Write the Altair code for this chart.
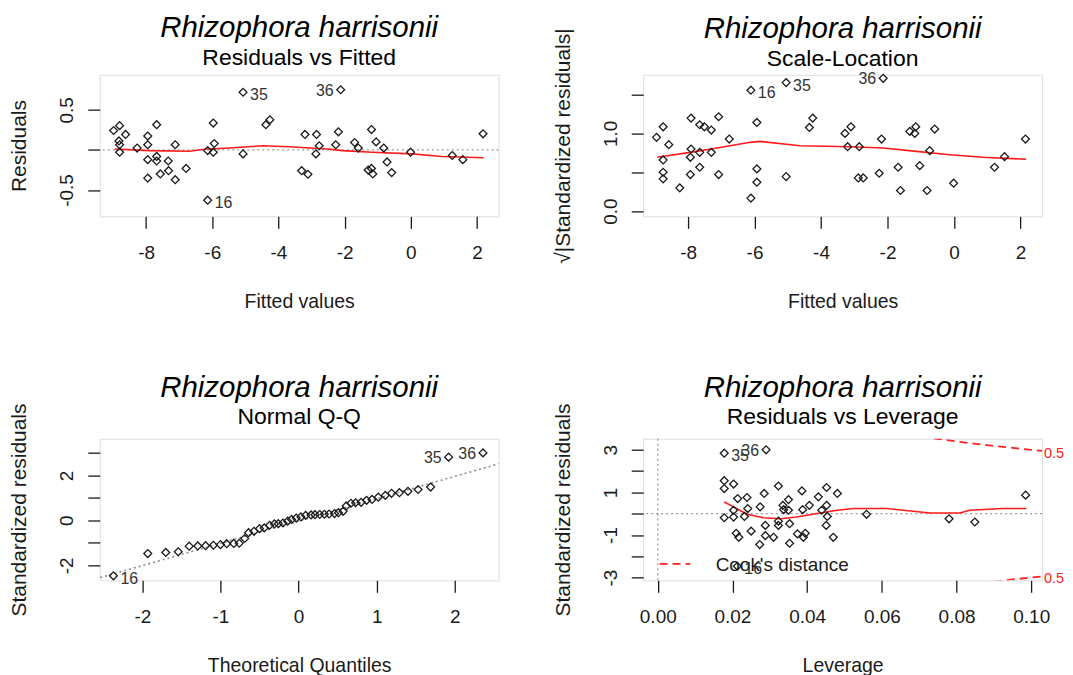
import altair as alt
import pandas as pd

FONT = "Liberation Sans, Arial, Helvetica, sans-serif"
SPECIES = "Rhizophora harrisonii"

# ---------------- Panel 1: Residuals vs Fitted ----------------
rvf_x = [-8.98, -8.80, -8.62, -8.82, -8.80, -8.80, -8.27, -7.95, -7.95, -7.95,
         -7.95, -7.68, -7.68, -7.68, -7.57, -7.33, -7.32, -7.12, -7.12, -6.79,
         -6.14, -6.14, -5.97, -5.94, -5.97, -5.07, -5.07, -4.38, -4.26, -3.20,
         -3.30, -3.11, -2.85, -2.77, -2.87, -2.27, -2.19, -2.12, -1.70, -1.59,
         -1.29, -1.19, -1.15, -1.19, -1.05, -0.82, -0.72, -0.58, -0.01, 1.25,
         1.57, 2.18]
rvf_y = [0.243, 0.304, 0.194, 0.113, 0.065, -0.028, 0.024, 0.174, 0.065, -0.121,
         -0.352, 0.316, -0.081, -0.138, -0.300, -0.138, -0.259, 0.065, -0.372, -0.231,
         -0.628, -0.008, 0.336, 0.081, -0.028, 0.721, -0.049, 0.316, 0.377, 0.194,
         -0.259, -0.304, 0.194, 0.053, -0.049, 0.065, 0.227, 0.753, 0.093, 0.024,
         -0.251, 0.255, -0.300, -0.231, 0.101, 0.024, -0.150, -0.283, -0.028, -0.069,
         -0.121, 0.202]
rvf_smooth_x = [-8.95, -7.9, -6.69, -6.24, -5.49, -4.48, -3.68, -2.52, -2.07, -1.17, 0.04, 0.94, 2.2]
rvf_smooth_y = [0.012, -0.008, -0.016, 0.008, 0.024, 0.053, 0.04, 0.012, -0.008, -0.028, -0.049, -0.081, -0.097]
rvf_lab_x = [-5.07, -2.12, -6.14]
rvf_lab_y = [0.721, 0.753, -0.628]
rvf_lab_t = ["35", "36", "16"]
rvf_lab_side = ["r", "l", "r"]

# ---------------- Panel 2: Scale-Location ----------------
sl_x = [-8.95, -8.75, -8.58, -8.75, -8.75, -8.75, -8.25, -7.91, -7.91, -7.93,
        -7.93, -7.65, -7.51, -7.65, -7.65, -7.30, -7.30, -7.08, -7.08, -6.76,
        -6.11, -5.93, -5.93, -5.93, -6.11, -5.05, -5.05, -4.35, -4.25, -3.28,
        -3.10, -3.20, -2.85, -2.88, -2.73, -2.25, -2.18, -2.13, -1.68, -1.61,
        -1.33, -1.15, -1.18, -1.03, -0.81, -0.73, -0.58, -0.01, 1.22, 1.52,
        2.15]
sl_y = [0.949, 1.085, 0.855, 0.658, 0.500, 0.415, 0.299, 1.197, 0.799, 0.692,
        0.470, 1.111, 1.085, 0.756, 0.564, 1.043, 0.756, 1.214, 0.470, 0.927,
        1.556, 1.141, 0.543, 0.372, 0.167, 1.654, 0.444, 1.077, 1.197, 1.000,
        1.085, 0.829, 0.829, 0.427, 0.427, 0.487, 0.927, 1.709, 0.564, 0.265,
        1.026, 1.085, 1.000, 0.585, 0.265, 0.778, 1.056, 0.359, 0.564, 0.701,
        0.927]
sl_smooth_x = [-8.93, -7.93, -7.13, -6.13, -5.83, -4.63, -3.13, -2.13, -1.13, -0.13, 0.87, 2.17]
sl_smooth_y = [0.692, 0.756, 0.812, 0.885, 0.897, 0.842, 0.829, 0.812, 0.769, 0.726, 0.692, 0.667]
sl_lab_x = [-6.11, -5.05, -2.13]
sl_lab_y = [1.556, 1.654, 1.709]
sl_lab_t = ["16", "35", "36"]
sl_lab_side = ["r", "r", "l"]

# ---------------- Panel 3: Normal Q-Q ----------------
qq_x = [-2.37, -1.93, -1.70, -1.54, -1.40, -1.29, -1.19, -1.09, -1.00, -0.92,
        -0.83, -0.76, -0.69, -0.64, -0.57, -0.50, -0.44, -0.37, -0.31, -0.26,
        -0.20, -0.14, -0.09, -0.03, 0.03, 0.09, 0.16, 0.21, 0.27, 0.33,
        0.39, 0.46, 0.51, 0.57, 0.61, 0.67, 0.73, 0.80, 0.87, 0.94,
        1.02, 1.11, 1.19, 1.29, 1.40, 1.53, 1.69, 1.92, 2.36]
qq_y = [-2.47, -1.48, -1.43, -1.40, -1.15, -1.14, -1.13, -1.11, -1.08, -1.04,
        -1.03, -1.02, -0.81, -0.55, -0.49, -0.37, -0.34, -0.22, -0.16, -0.15,
        -0.12, -0.04, 0.04, 0.10, 0.15, 0.22, 0.24, 0.25, 0.26, 0.27,
        0.28, 0.30, 0.34, 0.40, 0.64, 0.76, 0.78, 0.80, 0.89, 0.93,
        1.03, 1.11, 1.20, 1.23, 1.29, 1.37, 1.48, 2.81, 3.00]
qq_line_x = [-2.6, 2.6]
qq_line_y = [-2.61, 2.55]
qq_lab_x = [-2.37, 1.92, 2.36]
qq_lab_y = [-2.47, 2.81, 3.00]
qq_lab_t = ["16", "35", "36"]
qq_lab_side = ["r", "l", "l"]

# ---------------- Panel 4: Residuals vs Leverage ----------------
lev_x = [0.0178, 0.0290, 0.0178, 0.0178, 0.0203, 0.0178, 0.0203, 0.0203, 0.0214, 0.0239,
         0.0241, 0.0232, 0.0210, 0.0217, 0.0250, 0.0273, 0.0274, 0.0285, 0.0288, 0.0288,
         0.0310, 0.0323, 0.0323, 0.0323, 0.0335, 0.0350, 0.0350, 0.0353, 0.0353, 0.0337,
         0.0374, 0.0386, 0.0388, 0.0395, 0.0390, 0.0406, 0.0430, 0.0439, 0.0452, 0.0452,
         0.0454, 0.0451, 0.0470, 0.0481, 0.0559, 0.0780, 0.0849, 0.0985, 0.0213]
lev_y = [2.84, 3.00, 1.55, 1.18, 1.39, -0.19, -0.16, 0.16, 0.71, 0.76,
         0.24, -0.13, -0.92, -1.11, -0.82, -1.45, 0.32, 0.95, -0.55, -1.03,
         -1.11, 1.30, -0.35, -0.55, 0.39, 0.66, 0.16, -0.47, -1.39, 0.19,
         -0.95, 1.07, 0.19, -0.92, -1.11, 0.39, 0.79, 0.16, 1.23, 0.39,
         -0.13, -0.55, -1.11, 0.95, -0.03, -0.24, -0.39, 0.87, -2.47]
lev_smooth_x = [0.0178, 0.0203, 0.0239, 0.0283, 0.0328, 0.0372, 0.0435, 0.048, 0.0524,
                0.0613, 0.0729, 0.0809, 0.0835, 0.0924, 0.0987]
lev_smooth_y = [0.55, 0.32, -0.03, -0.19, -0.24, -0.16, 0.03, 0.16, 0.24,
                0.24, 0.03, 0.03, 0.16, 0.24, 0.24]
cook_top_x = [0.0705, 0.075, 0.08, 0.085, 0.09, 0.095, 0.10, 0.1035]
cook_top_y = [3.64, 3.51, 3.39, 3.28, 3.18, 3.09, 3.00, 2.94]
cook_bot_x = [0.09, 0.095, 0.10, 0.1035]
cook_bot_y = [-3.18, -3.09, -3.00, -2.94]
cook_lab_x = [0.1029, 0.1029]
cook_lab_y = [2.8, -3.05]
cook_lab_t = ["0.5", "0.5"]
legend_line_x = [0.0005, 0.0087]
legend_line_y = [-2.36, -2.36]
legend_text_x = [0.0155]
legend_text_y = [-2.40]
legend_text = ["Cook's distance"]
lev_lab_x = [0.0178, 0.0290, 0.0213]
lev_lab_y = [2.84, 3.00, -2.47]
lev_lab_t = ["35", "36", "16"]
lev_lab_side = ["r", "l", "r"]

# ---------------- axes ----------------
fit_ticks = [-8, -6, -4, -2, 0, 2]
fit_labels = ["-8", "-6", "-4", "-2", "0", "2"]
res_ticks = [-0.5, 0, 0.5]
res_labels = ["-0.5", "", "0.5"]
sl_ticks = [0, 0.5, 1.0, 1.5]
sl_labels = ["0.0", "", "1.0", ""]
qx_ticks = [-2, -1, 0, 1, 2]
qx_labels = ["-2", "-1", "0", "1", "2"]
qy_ticks = [-2, -1, 0, 1, 2, 3]
qy_labels = ["-2", "", "0", "", "2", ""]
lx_ticks = [0.0, 0.02, 0.04, 0.06, 0.08, 0.10]
lx_labels = ["0.00", "0.02", "0.04", "0.06", "0.08", "0.10"]
ly_ticks = [-3, -2, -1, 0, 1, 2, 3]
ly_labels = ["-3", "", "-1", "", "1", "", "3"]

W, H = 400, 142
INK = "#1a1a1a"


def lbl_expr(vals, labels):
    expr = "''"
    for v, l in reversed(list(zip(vals, labels))):
        expr = f"abs(datum.value - ({v})) < 1e-9 ? '{l}' : {expr}"
    return expr


def x_axis(vals, labels, title):
    return alt.Axis(values=vals, labelExpr=lbl_expr(vals, labels), title=title,
                    tickSize=12, tickWidth=1.3, tickColor=INK, domain=False, grid=False,
                    labelFont=FONT, labelFontSize=19, labelColor=INK, labelPadding=15,
                    labelOverlap=False, labelFlush=False,
                    titleFont=FONT, titleFontSize=19.5, titleFontWeight="normal",
                    titleColor=INK, titlePadding=30, minExtent=46, maxExtent=46)


def y_axis(vals, labels, title):
    return alt.Axis(values=vals, labelExpr=lbl_expr(vals, labels), title=title,
                    tickSize=12, tickWidth=1.3, tickColor=INK, domain=False, grid=False,
                    labelFont=FONT, labelFontSize=19, labelColor=INK, labelPadding=11,
                    labelAngle=-90, labelAlign="center", labelBaseline="bottom",
                    labelOverlap=False, labelFlush=False,
                    titleFont=FONT, titleFontSize=21, titleFontWeight="normal",
                    titleColor=INK, titlePadding=28, minExtent=42, maxExtent=42)


def panel(xdom, ydom, xax, yax, subtitle, title_offset, pts, smooth, labels, extra=()):
    xs = alt.Scale(domain=xdom, nice=False, zero=False)
    ys = alt.Scale(domain=ydom, nice=False, zero=False)

    def enc():
        return dict(x=alt.X("x:Q", scale=xs, axis=xax), y=alt.Y("y:Q", scale=ys, axis=yax))

    layers = []
    for kind, df in extra:
        if kind == "hrule":
            layers.append(alt.Chart(df).mark_rule(color="#9a9a9a", strokeDash=[2, 3], strokeWidth=1.3)
                          .encode(y=alt.Y("y:Q", scale=ys, axis=yax)))
        elif kind == "vrule":
            layers.append(alt.Chart(df).mark_rule(color="#9a9a9a", strokeDash=[2, 3], strokeWidth=1.3)
                          .encode(x=alt.X("x:Q", scale=xs, axis=xax)))
        elif kind == "dotline":
            layers.append(alt.Chart(df).mark_line(color="#8a8a8a", strokeDash=[2, 3], strokeWidth=1.6, clip=True)
                          .encode(**enc()))
        elif kind == "cook":
            layers.append(alt.Chart(df).mark_line(color="#ff2020", strokeDash=[8, 5], strokeWidth=1.8, clip=True)
                          .encode(**enc()))
        elif kind == "cooklab":
            layers.append(alt.Chart(df).mark_text(color="#ff2020", align="left", baseline="middle", dx=2,
                                                  font=FONT, fontSize=14.5)
                          .encode(text="t:N", **enc()))
        elif kind == "legline":
            layers.append(alt.Chart(df).mark_line(color="#ff2020", strokeDash=[8, 5], strokeWidth=1.8)
                          .encode(**enc()))
        elif kind == "legtext":
            layers.append(alt.Chart(df).mark_text(color=INK, align="left", baseline="middle",
                                                  font=FONT, fontSize=19)
                          .encode(text="t:N", **enc()))
    if smooth is not None:
        layers.append(alt.Chart(smooth).mark_line(color="#ff1a1a", strokeWidth=1.6).encode(**enc()))
    layers.append(alt.Chart(pts).mark_point(shape="diamond", filled=False, size=62, color=INK,
                                            strokeWidth=1.3, opacity=1).encode(**enc()))
    layers.append(alt.Chart(labels).transform_filter("datum.side == 'r'")
                  .mark_text(align="left", baseline="middle", dx=7, dy=3, font=FONT, fontSize=16, color="#333")
                  .encode(text="t:N", **enc()))
    layers.append(alt.Chart(labels).transform_filter("datum.side == 'l'")
                  .mark_text(align="right", baseline="middle", dx=-7, dy=1, font=FONT, fontSize=16, color="#333")
                  .encode(text="t:N", **enc()))
    return alt.layer(*layers).properties(
        width=W, height=H,
        title=alt.TitleParams(text=SPECIES, subtitle=[subtitle], font=FONT, fontSize=29.5,
                              fontStyle="italic", fontWeight="normal", color="black",
                              subtitleFont=FONT, subtitleFontSize=23, subtitleColor="black",
                              subtitleFontWeight="normal", subtitlePadding=3,
                              anchor="middle", frame="group", offset=title_offset))


def xy(xl, yl):
    return pd.DataFrame({"x": xl, "y": yl})


def labs(xl, yl, tl, sl):
    return pd.DataFrame({"x": xl, "y": yl, "t": tl, "side": sl})


p1 = panel([-9.4, 2.65], [-0.83, 0.94],
           x_axis(fit_ticks, fit_labels, "Fitted values"),
           y_axis(res_ticks, res_labels, "Residuals"),
           "Residuals vs Fitted", 4, xy(rvf_x, rvf_y), xy(rvf_smooth_x, rvf_smooth_y),
           labs(rvf_lab_x, rvf_lab_y, rvf_lab_t, rvf_lab_side),
           extra=[("hrule", pd.DataFrame({"y": [0]}))])

p2 = panel([-9.35, 2.65], [-0.068, 1.755],
           x_axis(fit_ticks, fit_labels, "Fitted values"),
           y_axis(sl_ticks, sl_labels, "√|Standardized residuals|"),
           "Scale-Location", -44, xy(sl_x, sl_y), xy(sl_smooth_x, sl_smooth_y),
           labs(sl_lab_x, sl_lab_y, sl_lab_t, sl_lab_side))

p3 = panel([-2.545, 2.56], [-2.67, 3.63],
           x_axis(qx_ticks, qx_labels, "Theoretical Quantiles"),
           y_axis(qy_ticks, qy_labels, "Standardized residuals"),
           "Normal Q-Q", -27, xy(qq_x, qq_y), None,
           labs(qq_lab_x, qq_lab_y, qq_lab_t, qq_lab_side),
           extra=[("dotline", xy(qq_line_x, qq_line_y))])

p4 = panel([-0.0039, 0.1029], [-3.13, 3.52],
           x_axis(lx_ticks, lx_labels, "Leverage"),
           y_axis(ly_ticks, ly_labels, "Standardized residuals"),
           "Residuals vs Leverage", -27, xy(lev_x, lev_y), xy(lev_smooth_x, lev_smooth_y),
           labs(lev_lab_x, lev_lab_y, lev_lab_t, lev_lab_side),
           extra=[("hrule", pd.DataFrame({"y": [0]})),
                  ("vrule", pd.DataFrame({"x": [0]})),
                  ("cook", xy(cook_top_x, cook_top_y)),
                  ("cook", xy(cook_bot_x, cook_bot_y)),
                  ("cooklab", pd.DataFrame({"x": cook_lab_x, "y": cook_lab_y, "t": cook_lab_t})),
                  ("legline", xy(legend_line_x, legend_line_y)),
                  ("legtext", pd.DataFrame({"x": legend_text_x, "y": legend_text_y, "t": legend_text}))])

chart = alt.concat(p1, p2, p3, p4, columns=2,
                   spacing=alt.RowColnumber(row=223, column=145),
                   bounds="flush").properties(
    padding={"left": 0, "top": 4, "right": 0, "bottom": 0}).configure_view(
    stroke=INK, strokeWidth=1.3).configure(font=FONT, background="white")

chart.save("out.html", embed_options={"renderer": "svg", "actions": False})
